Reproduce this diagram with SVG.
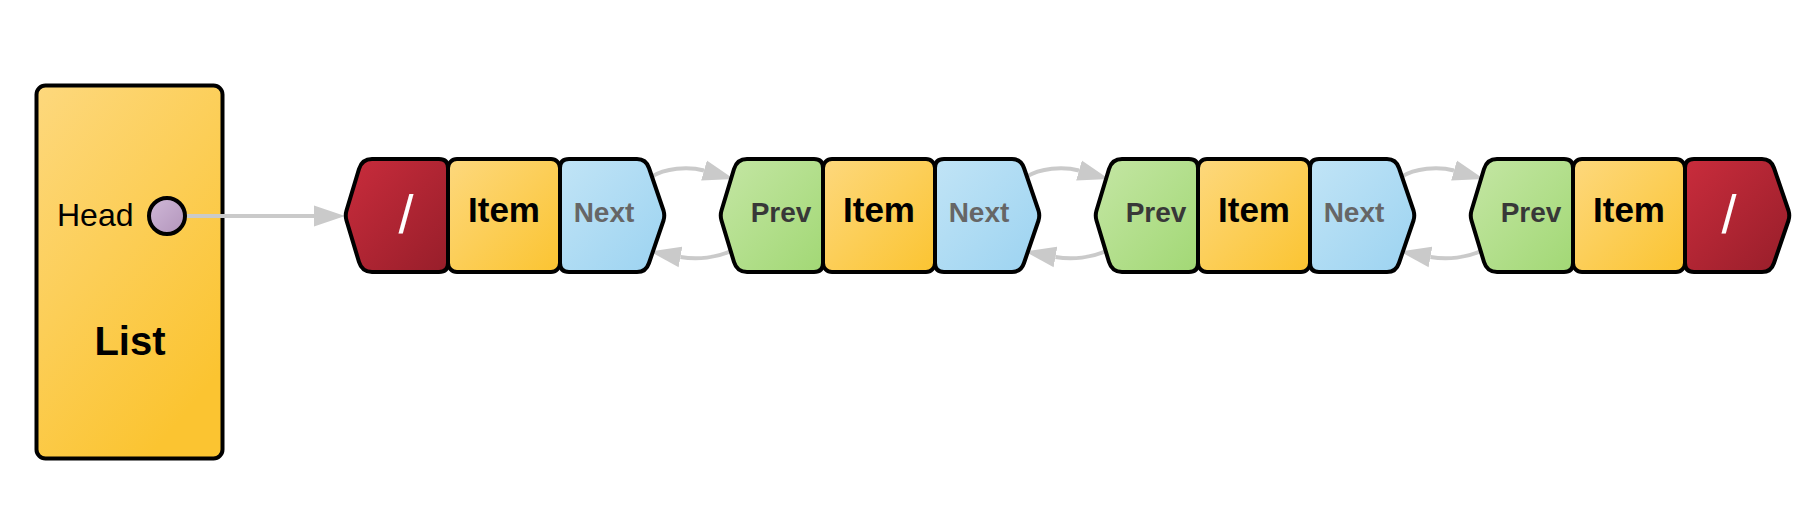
<svg xmlns="http://www.w3.org/2000/svg" width="1813" height="531" viewBox="0 0 1813 531">
  <defs>
    <linearGradient id="gY" x1="0" y1="0" x2="1" y2="1">
      <stop offset="0" stop-color="#fdd87d"/>
      <stop offset="1" stop-color="#fbc431"/>
    </linearGradient>
    <linearGradient id="gL" x1="0" y1="0" x2="0.6" y2="1">
      <stop offset="0" stop-color="#fdd87d"/>
      <stop offset="1" stop-color="#fbc431"/>
    </linearGradient>
    <linearGradient id="gR" x1="0" y1="0" x2="1" y2="1">
      <stop offset="0" stop-color="#c92c3c"/>
      <stop offset="1" stop-color="#971e2a"/>
    </linearGradient>
    <linearGradient id="gB" x1="0" y1="0" x2="1" y2="1">
      <stop offset="0" stop-color="#c1e4f6"/>
      <stop offset="1" stop-color="#9cd3f1"/>
    </linearGradient>
    <linearGradient id="gG" x1="0" y1="0" x2="1" y2="1">
      <stop offset="0" stop-color="#c4e6a4"/>
      <stop offset="1" stop-color="#a2d875"/>
    </linearGradient>
    <linearGradient id="gP" x1="0" y1="0" x2="1" y2="1">
      <stop offset="0" stop-color="#d0b8d8"/>
      <stop offset="1" stop-color="#b294bb"/>
    </linearGradient>
    <marker id="ah" markerUnits="userSpaceOnUse" markerWidth="32" markerHeight="22" refX="0" refY="11" orient="auto">
      <path d="M0,0.5 L31,11 L0,21.5 Z" fill="#cacaca"/>
    </marker>
    <path id="cellL" d="M27 159 L94 159 Q103 159 103 168 L103 263 Q103 272 94 272 L27 272 Q17 272 14 262 L1.5 220.5 Q0 215.5 1.5 210.5 L14 169 Q17 159 27 159 Z"/>
    <path id="cellR" d="M224 159 L292 159 Q301 159 304 168 L318.5 210.5 Q320 215.5 318.5 220.5 L304 263 Q301 272 292 272 L224 272 Q215 272 215 263 L215 168 Q215 159 224 159 Z"/>
    <rect id="cellM" x="103" y="159" width="112" height="113" rx="9"/>
  </defs>
  <style>
    .cell { stroke: #000; stroke-width: 4; stroke-linejoin: round; }
    .conn { fill: none; stroke: #cacaca; stroke-width: 4; }
    .lbl { font-family: "Liberation Sans", Arial, sans-serif; font-weight: bold; font-size: 28px; text-anchor: middle; }
    .prev { fill: #383838; }
    .next { fill: #666666; }
    .item { font-family: "Liberation Sans", Arial, sans-serif; font-weight: bold; font-size: 35px; text-anchor: middle; fill: #000; }
    .nil { font-family: "Liberation Sans", Arial, sans-serif; font-size: 54px; text-anchor: middle; fill: #ffffff; }
  </style>

  <g id="list">
    <rect x="36.5" y="85.5" width="186" height="373" rx="9" fill="url(#gL)" stroke="#000" stroke-width="4"/>
    <text x="57" y="226" font-family="'Liberation Sans', Arial, sans-serif" font-size="32" fill="#000">Head</text>
    <circle cx="167" cy="216" r="18" fill="url(#gP)" stroke="#000" stroke-width="4"/>
    <text x="130" y="355" font-family="'Liberation Sans', Arial, sans-serif" font-size="40" font-weight="bold" text-anchor="middle" fill="#000">List</text>
  </g>

  <g id="connectors">
    <path class="conn" d="M187 216 L314 216" marker-end="url(#ah)"/>
    <g transform="translate(345,0)">
      <path class="conn" d="M306 177 C320 168 343 166 359 170.5" marker-end="url(#ah)"/>
      <path class="conn" d="M388 250 C372 258 352 260 335.5 257" marker-end="url(#ah)"/>
    </g>
    <g transform="translate(720,0)">
      <path class="conn" d="M306 177 C320 168 343 166 359 170.5" marker-end="url(#ah)"/>
      <path class="conn" d="M388 250 C372 258 352 260 335.5 257" marker-end="url(#ah)"/>
    </g>
    <g transform="translate(1095,0)">
      <path class="conn" d="M306 177 C320 168 343 166 359 170.5" marker-end="url(#ah)"/>
      <path class="conn" d="M388 250 C372 258 352 260 335.5 257" marker-end="url(#ah)"/>
    </g>
  </g>

  <g id="node1" transform="translate(345,0)">
    <use href="#cellL" class="cell" fill="url(#gR)"/>
    <use href="#cellM" class="cell" fill="url(#gY)"/>
    <use href="#cellR" class="cell" fill="url(#gB)"/>
    <text class="nil" x="61" y="233">/</text>
    <text class="item" x="159" y="222">Item</text>
    <text class="lbl next" x="259" y="222">Next</text>
  </g>

  <g id="node2" transform="translate(720,0)">
    <use href="#cellL" class="cell" fill="url(#gG)"/>
    <use href="#cellM" class="cell" fill="url(#gY)"/>
    <use href="#cellR" class="cell" fill="url(#gB)"/>
    <text class="lbl prev" x="61" y="222">Prev</text>
    <text class="item" x="159" y="222">Item</text>
    <text class="lbl next" x="259" y="222">Next</text>
  </g>

  <g id="node3" transform="translate(1095,0)">
    <use href="#cellL" class="cell" fill="url(#gG)"/>
    <use href="#cellM" class="cell" fill="url(#gY)"/>
    <use href="#cellR" class="cell" fill="url(#gB)"/>
    <text class="lbl prev" x="61" y="222">Prev</text>
    <text class="item" x="159" y="222">Item</text>
    <text class="lbl next" x="259" y="222">Next</text>
  </g>

  <g id="node4" transform="translate(1470,0)">
    <use href="#cellL" class="cell" fill="url(#gG)"/>
    <use href="#cellM" class="cell" fill="url(#gY)"/>
    <use href="#cellR" class="cell" fill="url(#gR)"/>
    <text class="lbl prev" x="61" y="222">Prev</text>
    <text class="item" x="159" y="222">Item</text>
    <text class="nil" x="259" y="233">/</text>
  </g>
</svg>
